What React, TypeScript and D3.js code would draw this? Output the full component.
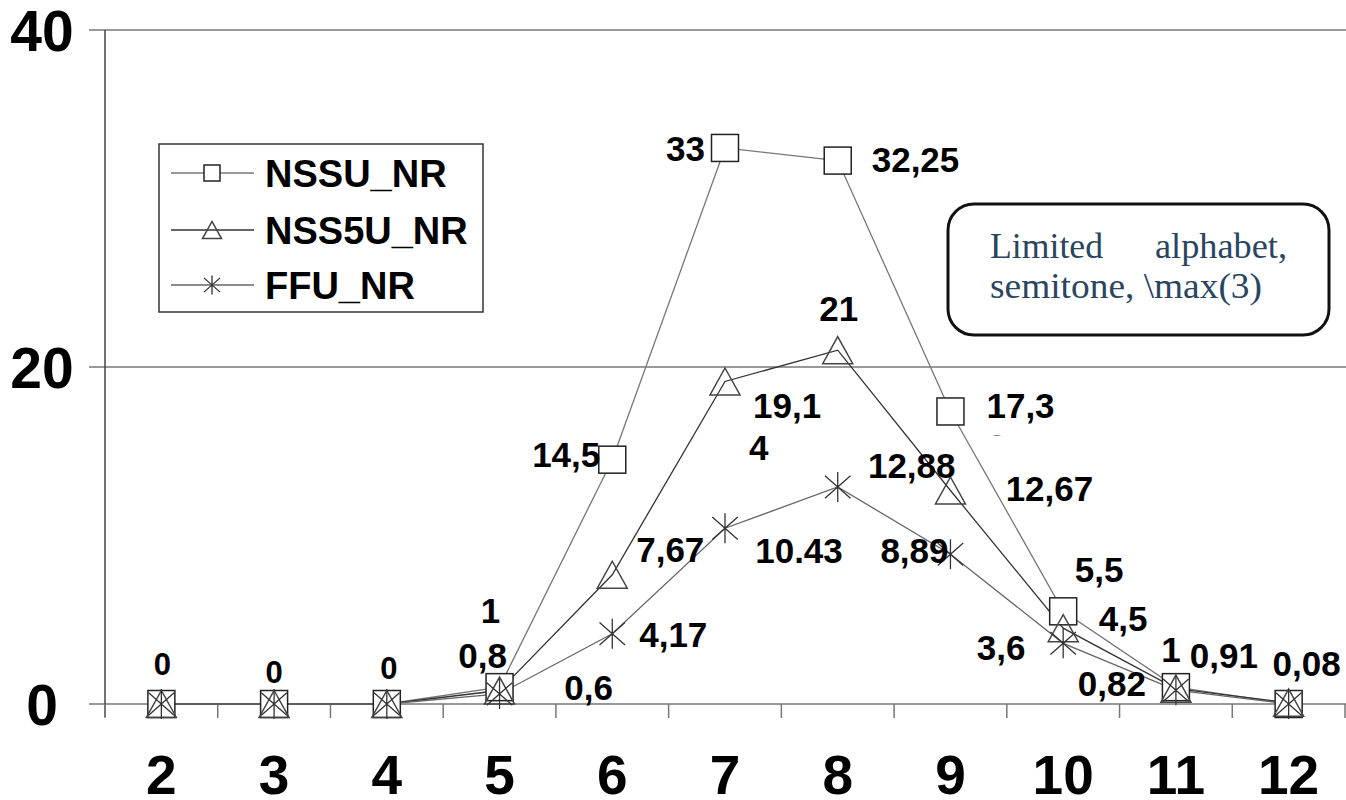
import React from "react";
import * as d3 from "d3";

const categories = ["2", "3", "4", "5", "6", "7", "8", "9", "10", "11", "12"];
const nssuValues = [0, 0, 0, 1, 14.5, 33, 32.25, 17.36, 5.5, 1, 0];
const nss5uValues = [0, 0, 0, 0.8, 7.67, 19.14, 21, 12.67, 4.5, 0.91, 0.08];
const ffuValues = [0, 0, 0, 0.6, 4.17, 10.43, 12.88, 8.89, 3.6, 0.82, 0];
const nssuLabels = ["0", "0", "0", "1", "14,5", "33", "32,25", "17,3", "5,5", "1", ""];
const nss5uLabels = ["", "", "", "0,8", "7,67", "19,1|4", "21", "12,67", "4,5", "0,91", "0,08"];
const ffuLabels = ["", "", "", "0,6", "4,17", "10.43", "12,88", "8,89", "3,6", "0,82", ""];
const yTicks = [0, 20, 40];
const seriesNames = ["NSSU_NR", "NSS5U_NR", "FFU_NR"];
const noteLines = ["Limited", "alphabet,", "semitone, \\max(3)"];

// label offsets (layout only): [dx, dy, anchor]
const nssuOff: [number, number, string][] = [
  [1, -40, "middle"], [0, -32, "middle"], [2, -36, "middle"], [-9, -77, "middle"],
  [-12, -5, "end"], [-20, 0, "end"], [34, -1, "start"], [36, -6, "start"],
  [36, -42, "middle"], [-5, -38, "middle"], [0, 0, "middle"],
];
const nss5uOff: [number, number, string][] = [
  [0, 0, "middle"], [0, 0, "middle"], [0, 0, "middle"], [-17, -35, "middle"],
  [58, -25, "middle"], [28, 24, "start"], [1, -42, "middle"], [99, -2, "middle"],
  [60, -10, "middle"], [48, -33, "middle"], [18, -39, "middle"],
];
const ffuOff: [number, number, string][] = [
  [0, 0, "middle"], [0, 0, "middle"], [0, 0, "middle"], [89, -6, "middle"],
  [61, 1, "middle"], [74, 22, "middle"], [74, -22, "middle"], [-36, -4, "middle"],
  [-62, 4, "middle"], [-64, -7, "middle"], [0, 0, "middle"],
];

const FONT = "'Liberation Sans', Arial, Helvetica, sans-serif";

function Marker({ kind, x, y, s }: { kind: string; x: number; y: number; s: number }) {
  if (kind === "square") {
    return <rect x={x - s / 2} y={y - s / 2} width={s} height={s} fill="#fff" stroke="#222" strokeWidth={1.5} />;
  }
  if (kind === "triangle") {
    const h = s * 0.9;
    return (
      <path
        d={`M${x},${y - h / 2}L${x + s / 2},${y + h / 2}L${x - s / 2},${y + h / 2}Z`}
        fill="#fff"
        fillOpacity={0}
        stroke="#444"
        strokeWidth={1.5}
      />
    );
  }
  const r = s / 2;
  return (
    <path
      d={`M${x},${y - r}L${x},${y + r}M${x - r * 0.85},${y - r * 0.75}L${x + r * 0.85},${y + r * 0.75}M${x - r * 0.85},${y + r * 0.75}L${x + r * 0.85},${y - r * 0.75}`}
      stroke="#333"
      strokeWidth={1.3}
      fill="none"
    />
  );
}

export default function App() {
  const W = 1346;
  const H = 800;
  const left = 105;
  const right = 1345;
  const x = d3.scaleBand<string>().domain(categories).range([left, right]).padding(0);
  const cx = (c: string) => (x(c) as number) + x.bandwidth() / 2;
  const y = d3.scaleLinear().domain([0, 40]).range([704, 30]);

  const series = [
    { name: seriesNames[0], values: nssuValues, labels: nssuLabels, off: nssuOff, kind: "square", color: "#777", ms: 27 },
    { name: seriesNames[1], values: nss5uValues, labels: nss5uLabels, off: nss5uOff, kind: "triangle", color: "#333", ms: 30 },
    { name: seriesNames[2], values: ffuValues, labels: ffuLabels, off: ffuOff, kind: "star", color: "#666", ms: 30 },
  ];

  const line = d3
    .line<number>()
    .x((_, i) => cx(categories[i]))
    .y((v) => y(v));

  const ticksX = d3.range(categories.length + 1).map((i) => left + i * x.bandwidth());

  return (
    <svg width={W} height={H} style={{ position: "absolute", left: 0, top: 0, background: "#fff" }}>
      <rect x={0} y={0} width={W} height={H} fill="#fff" />
      {yTicks.map((t) => (
        <g key={t}>
          <line x1={89} x2={W} y1={y(t)} y2={y(t)} stroke="#777" strokeWidth={1.5} />
          <text
            x={42}
            y={y(t)}
            dy="0.36em"
            textAnchor="middle"
            fontFamily={FONT}
            fontWeight="bold"
            fontSize={57}
            fill="#000"
          >
            {t}
          </text>
        </g>
      ))}
      <line x1={left} x2={left} y1={y(40)} y2={y(0) + 13} stroke="#444" strokeWidth={1.5} />
      {ticksX.map((tx, i) => (
        <line key={i} x1={tx} x2={tx} y1={y(0)} y2={y(0) + 14} stroke="#777" strokeWidth={1.5} />
      ))}
      {categories.map((c) => (
        <text
          key={c}
          x={cx(c)}
          y={794}
          textAnchor="middle"
          fontFamily={FONT}
          fontWeight="bold"
          fontSize={55}
          fill="#000"
        >
          {c}
        </text>
      ))}
      {series.map((s) => (
        <path key={s.name} d={line(s.values) || ""} fill="none" stroke={s.color} strokeWidth={1.3} />
      ))}
      {series.map((s) =>
        s.values.map((v, i) => (
          <Marker key={s.name + i} kind={s.kind} x={cx(categories[i])} y={y(v)} s={s.ms} />
        ))
      )}
      {series.map((s) =>
        s.values.map((v, i) => {
          const lab = s.labels[i];
          if (!lab) return null;
          const [dx, dy, anchor] = s.off[i];
          const px = cx(categories[i]) + dx;
          const py = y(v) + dy;
          const parts = lab.split("|");
          const small = v === 0;
          return (
            <text
              key={s.name + "l" + i}
              x={px}
              y={py}
              textAnchor={anchor as any}
              fontFamily={FONT}
              fontWeight="bold"
              fontSize={small ? 31 : 35}
              fill="#000"
            >
              {parts.map((p, k) => (
                <tspan key={k} x={px - (k > 0 ? 4 : 0)} dy={k === 0 ? "0.36em" : "1.2em"}>
                  {p}
                </tspan>
              ))}
            </text>
          );
        })
      )}
      <clipPath id="clip6">
        <rect x={cx("9") + 30} y={y(nssuValues[7]) + 19} width={40} height={5} />
      </clipPath>
      <text
        x={cx("9") + 36}
        y={y(nssuValues[7]) + 48}
        fontFamily={FONT}
        fontWeight="bold"
        fontSize={35}
        clipPath="url(#clip6)"
      >
        6
      </text>
      <rect x={159} y={144} width={324} height={168} fill="#fff" stroke="#333" strokeWidth={1.5} />
      {series.map((s, i) => {
        const ly = [173, 230, 285][i];
        return (
          <g key={s.name + "leg"}>
            <line x1={171} x2={254} y1={ly} y2={ly} stroke={s.color} strokeWidth={1.3} />
            <Marker kind={s.kind} x={212} y={ly} s={s.kind === "square" ? 16 : 19} />
            <text x={265} y={ly} dy="0.36em" fontFamily={FONT} fontWeight="bold" fontSize={38} fill="#000">
              {s.name}
            </text>
          </g>
        );
      })}
      <rect x={948} y={204} width={381} height={131} rx={26} ry={26} fill="#fff" stroke="#111" strokeWidth={3} />
      <g fontFamily="'Liberation Serif', 'Times New Roman', serif" fontSize={35} fill="#2a4560">
        <text x={990} y={258} textLength={113} lengthAdjust="spacingAndGlyphs">{noteLines[0]}</text>
        <text x={1155} y={258} textLength={132} lengthAdjust="spacingAndGlyphs">{noteLines[1]}</text>
        <text x={990} y={298} textLength={272} lengthAdjust="spacingAndGlyphs">{noteLines[2]}</text>
      </g>
    </svg>
  );
}
